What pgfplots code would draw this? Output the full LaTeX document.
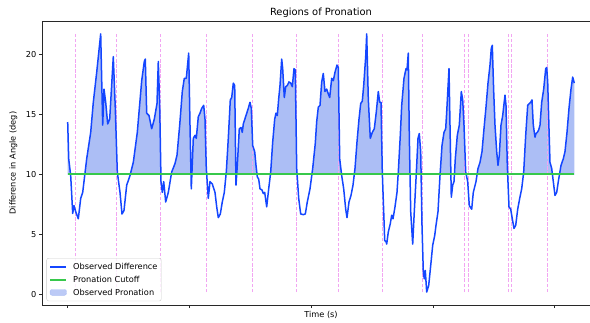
\documentclass[border=0pt]{standalone}
\usepackage{fontspec}
\setmainfont{DejaVu Sans}
\usepackage{pgfplots}
\usepackage{pgfplotstable}
\pgfplotsset{compat=1.18}
\definecolor{obsblue}{RGB}{20,70,255}
\definecolor{fillblue}{RGB}{172,190,245}
\definecolor{cutgreen}{RGB}{55,200,75}
\definecolor{vlinecol}{RGB}{242,165,242}
\definecolor{framegray}{RGB}{40,40,40}
\pgfplotstableread{
x y
67.7 14.36
68.7 11.3
70.7 9.9
72.7 6.75
74 7.4
75.7 6.9
78.3 6.3
80.7 8.0
82.7 8.5
86.7 11.3
90.7 13.5
93.3 16.0
96.7 18.5
100.7 21.7
102.7 14.1
104 17.1
105.7 16.0
107.7 14.2
109.7 14.6
113.3 19.8
115.3 15.5
117.3 10.2
120 8.5
122 6.7
124 7.0
126.7 9.1
130 9.9
133.3 11.0
137.3 13.5
141.7 17.8
144.3 19.4
145.3 19.6
146.7 15.1
149 14.9
151.7 13.8
154.3 14.6
157 15.9
158.3 19.4
159.7 15.75
161 9.4
162.3 8.5
163.7 9.4
165.7 7.7
168.3 8.5
171.7 10.2
175 10.9
177 11.6
179.7 14.1
182.3 16.9
184.3 18.0
186.3 18.0
188.7 20.1
190 14.1
191.3 8.8
193.3 13.0
195 13.25
196.3 13.0
198.3 14.8
200 15.1
201.7 15.5
203.7 15.75
205 14.6
206.3 10.5
208.3 8.0
210 9.4
212.3 9.2
215 8.5
216.7 7.3
218.3 6.4
220.3 6.7
222.3 7.7
224.3 8.5
226.3 10.2
228.3 13.0
230.3 16.2
231.7 16.4
233.3 17.6
234.7 17.4
236 9.1
237.3 10.75
239.3 13.8
241 13.9
242.3 13.5
243.3 14.2
246 14.9
248.3 15.5
250 16.0
251.3 15.5
252.7 12.4
254.7 11.9
256 10.75
257.3 9.8
258.7 9.6
260 8.8
262 8.7
263.3 8.4
264.7 8.5
266.7 7.3
268.7 8.8
270.7 10.2
272.7 12.7
274.7 14.6
276 15.1
277.3 14.9
278.7 16.3
280 17.4
281.7 19.6
282.7 18.8
284.3 16.4
285.7 17.3
287.3 17.4
289 17.7
290.7 17.6
292.3 17.3
294 18.8
295.3 18.7
296.7 10.5
298.7 8.0
300.7 6.7
303.3 6.65
305.3 6.7
307.3 7.7
310 8.8
312.7 10.5
315.3 12.6
316.7 14.4
318.3 15.6
320 15.75
321.7 17.7
323.3 18.4
325 16.9
326.7 17.1
328.3 16.7
329.7 16.4
331.7 18.0
333.3 17.8
335 18.5
337 19.1
338.3 18.9
339.7 11.3
341.7 9.9
343.7 8.8
345.7 7.1
347 6.4
349 7.7
351 8.25
353 9.1
355 10.5
357 12.7
359 14.6
360.7 15.9
362.3 16.1
363.7 17.4
365.7 19.8
366.7 21.7
368.3 16.3
370.3 13.0
372.3 13.5
374.3 13.8
376.3 15.2
378.3 16.9
379.7 16.0
381 16.0
382.3 10.2
383.7 6.9
384.7 4.5
386 4.4
386.7 4.2
388.3 5.2
390.3 5.9
391.7 6.6
393 6.3
395 7.3
397 8.5
398.3 10.2
400.3 13.25
401.7 15.75
404 18.0
406 18.8
407 18.7
408.3 20.1
409.3 13.25
410.7 6.9
412.7 4.2
414.3 6.9
416 9.6
418 13.0
419.3 13.4
420.7 11.9
422 5.75
423.3 1.9
424.3 1.3
425.3 2.0
426.7 0.2
428.7 0.75
430.7 2.4
432.7 4.1
434.7 4.9
436 5.75
438 6.9
440 9.9
442 12.4
444 13.5
445.7 13.8
446.7 15.2
449 18.8
450 14.1
451.3 8.1
452.7 9.1
454 9.4
455.3 11.3
457.3 13.25
459.3 14.1
461.3 16.9
462.7 16.2
464 14.1
465.7 10.2
467.7 9.4
469.3 7.4
471.7 7.1
473.3 8.5
476 9.4
478 10.5
480 11.0
482 11.9
484 13.8
486 15.6
488 17.6
490 19.1
491.3 20.5
492.3 20.75
493.7 16.9
495 14.1
496.7 11.9
498 10.75
499.3 11.6
501 14.1
502.7 14.9
505 16.6
506 15.75
507.3 10.75
509 7.3
510.7 7.1
512.3 6.3
514 5.5
515.7 5.75
517.7 7.1
519.7 8.0
521.7 8.8
523.7 10.2
525.7 13.25
527.7 15.75
529.3 15.9
530.7 16.0
532 16.2
533.3 14.1
535 13.1
536 13.4
537.3 13.5
538.7 13.7
540 14.1
541.7 16.0
543.7 17.1
545.7 18.8
546.7 18.9
547.7 17.7
549 13.8
550 11.0
551.7 10.5
553.3 9.4
555 8.25
556.7 8.5
558.3 9.4
561 10.75
563.3 11.3
565 11.9
567 13.5
569 15.5
571 17.1
572.7 18.1
574.3 17.6
}\obsdata
\begin{document}
\begin{tikzpicture}
\begin{axis}[
  at={(0pt,0pt)}, anchor=south west,
  scale only axis, width=557.2pt, height=284.3pt,
  xmin=42.4, xmax=599.6, ymin=-0.9, ymax=22.77,
  xtick={67.7,189.45,311.2,432.95,554.7}, xticklabels={},
  ytick={0,5,10,15,20},
  tick pos=left, tick align=outside, major tick length=2.9pt,
  every tick/.style={framegray, line width=0.9pt},
  axis line style={framegray, line width=1pt},
  /pgf/number format/assume math mode=true,
  tick label style={font=\fontsize{8.2}{9.8}\selectfont},
  yticklabel style={inner sep=0pt, xshift=-2.9pt},
  title={Regions of Pronation},
  every axis title shift=0pt,
  title style={font=\fontsize{9.9}{11.8}\selectfont, at={(axis description cs:0.5,1)}, anchor=base, yshift=5.6pt, inner sep=0pt},
  xlabel={Time (s)},
  xlabel style={font=\fontsize{8.2}{9.8}\selectfont, at={(axis description cs:0.5,0)}, anchor=north, yshift=-6.2pt, inner sep=0pt},
  ylabel={Difference in Angle (deg)},
  ylabel style={font=\fontsize{8.2}{9.8}\selectfont, at={(axis description cs:0,0.5)}, anchor=center, yshift=29pt},
  legend cell align=left,
  legend style={at={(axis description cs:0,0)}, anchor=south west, xshift=4.1pt, yshift=4.1pt,
    draw=black!20, rounded corners=2pt, fill=white, fill opacity=0.8, text opacity=1,
    font=\fontsize{8.2}{9.8}\selectfont, inner sep=2.5pt, row sep=0.6pt,
    nodes={inner sep=1.2pt, text depth=0.22em, text height=0.76em}},
  legend image code/.code={\draw[#1] (0pt,0pt) -- (16.4pt,0pt); \path (21pt,0pt);},
]
\begin{scope}
\clip (axis cs:42.4,10) rectangle (axis cs:599.6,22.77);
\addplot[fill=fillblue, draw=none, forget plot] table[x=x, y=y] {\obsdata} \closedcycle;
\end{scope}
\pgfplotsinvokeforeach{75.7,116.7,160.3,206.7,252.7,296.7,338.5,382.3,422,464.3,468,508.3,511.7,547.7}{
  \addplot[vlinecol, line width=0.85pt, dash pattern=on 3.4pt off 1.7pt, forget plot] coordinates {(#1,0.2) (#1,21.7)};
}
\addplot[obsblue, line width=1.5pt, line join=round] table[x=x, y=y] {\obsdata};
\addlegendentry{Observed Difference}
\addplot[cutgreen, line width=1.8pt] coordinates {(67.7,10) (574.3,10)};
\addlegendentry{Pronation Cutoff}
\addlegendimage{legend image code/.code={\fill[fillblue] (0pt,-2.9pt) rectangle (16.4pt,2.9pt); \path (21pt,0pt);}}
\addlegendentry{Observed Pronation}
\end{axis}
\draw[framegray, line width=0.9pt] (-0.45pt,284.3pt) -- (557.2pt,284.3pt);
\pgfresetboundingbox
\useasboundingbox (-42.4pt,-16.7pt) rectangle (547.6pt,305.3pt);
\end{tikzpicture}
\end{document}
